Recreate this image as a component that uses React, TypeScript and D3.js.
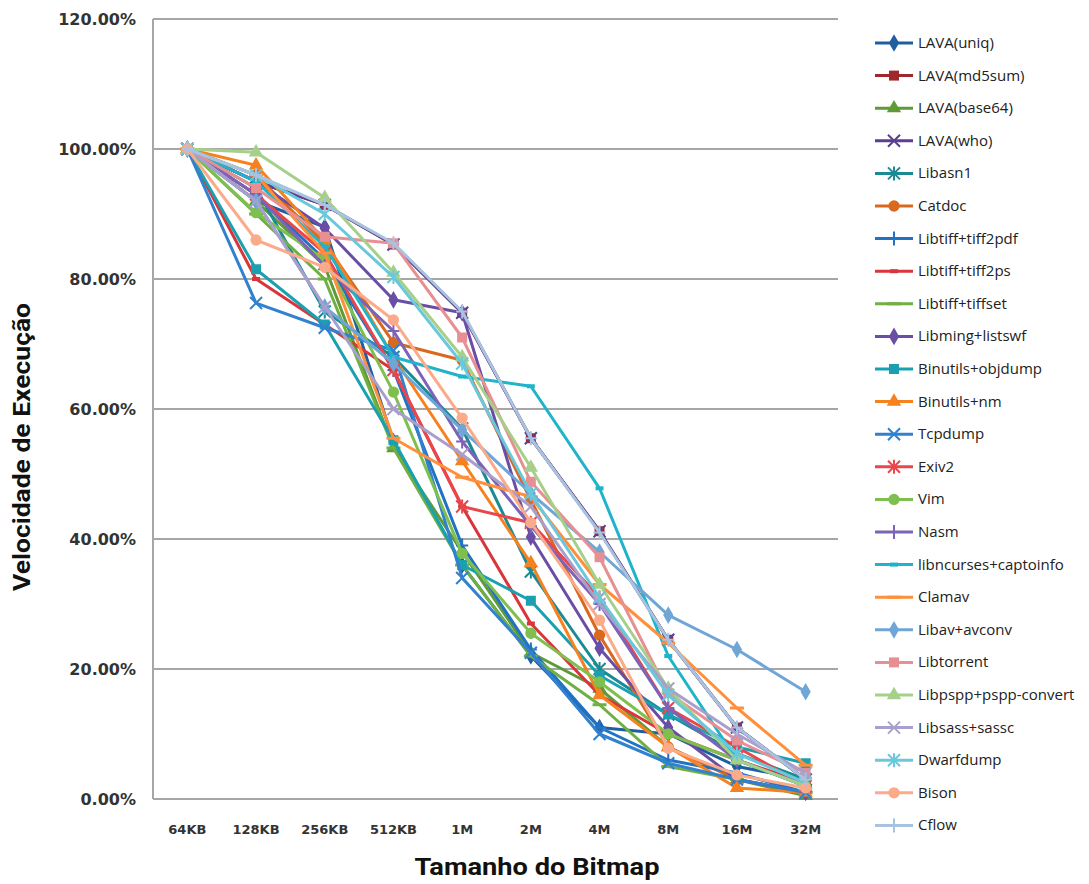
import React from 'react';
import * as d3 from 'd3';

// tamanhos do bitmap (eixo x)
const categories = ['64KB', '128KB', '256KB', '512KB', '1M', '2M', '4M', '8M', '16M', '32M'];
const yTicks = [0, 0.2, 0.4, 0.6, 0.8, 1.0, 1.2];

const seriesNames = [
  'LAVA(uniq)', 'LAVA(md5sum)', 'LAVA(base64)', 'LAVA(who)', 'Libasn1', 'Catdoc',
  'Libtiff+tiff2pdf', 'Libtiff+tiff2ps', 'Libtiff+tiffset', 'Libming+listswf',
  'Binutils+objdump', 'Binutils+nm', 'Tcpdump', 'Exiv2', 'Vim', 'Nasm',
  'libncurses+captoinfo', 'Clamav', 'Libav+avconv', 'Libtorrent',
  'Libpspp+pspp-convert', 'Libsass+sassc', 'Dwarfdump', 'Bison', 'Cflow',
];

const seriesColors = [
  '#1f5fa0', '#a0282c', '#5e9a37', '#5b3f90', '#1a8a94', '#d8691f',
  '#2272c3', '#d9353a', '#6fb043', '#6a4ea6', '#1aa0b0', '#f5821f',
  '#3181cf', '#e8474b', '#7fbf50', '#7d63b8', '#1fb4c9', '#ff8f3a',
  '#6fa6d6', '#e88f93', '#a6d08a', '#a99fcc', '#6ac8dc', '#fbaa8a', '#a7c3df',
];

// valores em % (velocidade relativa)
const lavaUniq = [100, 92, 88, 55, 36, 22, 11, 10, 5, 3];
const lavaMd5sum = [100, 95, 91.4, 85.3, 74.8, 55.5, 41.2, 24.5, 11, 3];
const lavaBase64 = [100, 92, 82, 54, 38, 22.5, 17, 8, 3, 0.5];
const lavaWho = [100, 95, 91.4, 85.3, 74.8, 55.5, 41.2, 24.5, 11, 3];
const libasn1 = [100, 94, 75, 68, 57, 35, 20, 13, 7, 3];
const catdoc = [100, 96, 85.5, 70.2, 67.5, 46, 25.2, 8, 3, 1];
const tiff2pdf = [100, 93, 83, 66, 39, 23, 11, 6, 4, 1];
const tiff2ps = [100, 80, 73, 66, 45, 27, 16, 10, 6, 2.5];
const tiffset = [100, 90, 80, 54, 36, 22, 14.5, 5, 3, 1];
const libming = [100, 95, 87.8, 76.8, 74.8, 40.3, 23.2, 11, 3, 1];
const objdump = [100, 81.5, 73, 55.2, 36, 30.5, 19, 13, 8, 5.5];
const binutilsNm = [100, 97.5, 86, 68, 52, 36.3, 16, 8, 1.7, 1];
const tcpdump = [100, 76.3, 72.5, 69, 34, 22.5, 10, 5.5, 3, 1];
const exiv2 = [100, 93, 84, 66, 45, 42.5, 31, 14, 8, 2];
const vim = [100, 90.2, 83, 62.6, 37.8, 25.5, 18, 10, 6, 2];
const nasm = [100, 93, 82, 72, 55, 42, 30, 14, 6, 2];
const libncurses = [100, 95, 85, 68, 65, 63.5, 47.8, 22, 6, 2];
const clamav = [100, 96, 84, 55.5, 49.5, 46.5, 33, 24, 14, 5.2];
const libav = [100, 92, 75.7, 67, 56.8, 47, 38, 28.3, 23, 16.5];
const libtorrent = [100, 94, 86.5, 85.5, 71, 48.8, 37.2, 16.3, 9, 4];
const libpspp = [100, 99.5, 92.5, 81, 68, 51, 33, 17, 6, 2];
const libsass = [100, 92, 75.7, 60, 53, 45, 30, 17, 10, 4];
const dwarfdump = [100, 96, 90, 80.3, 67, 47, 31, 16, 7, 2.5];
const bison = [100, 86, 81.8, 73.7, 58.6, 42.5, 27.5, 7.8, 3.7, 1.7];
const cflow = [100, 96, 91.4, 85.5, 75, 55.5, 41, 24.5, 11, 3];

const seriesValues = [
  lavaUniq, lavaMd5sum, lavaBase64, lavaWho, libasn1, catdoc, tiff2pdf, tiff2ps,
  tiffset, libming, objdump, binutilsNm, tcpdump, exiv2, vim, nasm, libncurses,
  clamav, libav, libtorrent, libpspp, libsass, dwarfdump, bison, cflow,
];

const markerTypes = ['diamond', 'square', 'triangle', 'x', 'star', 'circle', 'plus', 'dot', 'dash'];

const W = 1089;
const H = 884;
const plot = { left: 153, right: 840, top: 19, bottom: 799 };

const Marker = ({ type, color, x, y }: { type: string; color: string; x: number; y: number }) => {
  const t = `translate(${x},${y})`;
  if (type === 'diamond') return <path transform={t} d={d3.symbol(d3.symbolDiamond, 90)()!} fill={color} />;
  if (type === 'square') return <path transform={t} d={d3.symbol(d3.symbolSquare, 100)()!} fill={color} />;
  if (type === 'triangle') return <path transform={t} d={d3.symbol(d3.symbolTriangle, 90)()!} fill={color} />;
  if (type === 'circle') return <path transform={t} d={d3.symbol(d3.symbolCircle, 100)()!} fill={color} />;
  if (type === 'x')
    return <path transform={t} d="M-6,-6L6,6M-6,6L6,-6" stroke={color} strokeWidth={2} />;
  if (type === 'star')
    return <path transform={t} d="M-6,-6L6,6M-6,6L6,-6M0,-7L0,7" stroke={color} strokeWidth={2} />;
  if (type === 'plus')
    return <path transform={t} d="M0,-7L0,7M-6,0L6,0" stroke={color} strokeWidth={2} />;
  if (type === 'dot') return <path transform={t} d="M-4,0L4,0" stroke={color} strokeWidth={4} />;
  return <path transform={t} d="M-7,0L7,0" stroke={color} strokeWidth={3} />;
};

export default function App() {
  const x = d3.scalePoint<string>().domain(categories).range([plot.left, plot.right]).padding(0.5);
  const y = d3.scaleLinear().domain([0, 1.2]).range([plot.bottom, plot.top]);

  const line = d3
    .line<number>()
    .x((_, i) => x(categories[i])!)
    .y((d) => y(d / 100));

  const legendX = 875;
  const legendY0 = 43;
  const legendStep = 32.6;

  return (
    <svg width={W} height={H} style={{ display: 'block', position: 'absolute', left: 0, top: 0 }}>
      <rect width={W} height={H} fill="#fff" />
      {/* grade */}
      {yTicks.map((t) => (
        <line key={t} x1={plot.left} x2={838} y1={y(t)} y2={y(t)} stroke="#a6a6a6" strokeWidth={2} />
      ))}
      <line x1={plot.left} x2={plot.left} y1={plot.top} y2={plot.bottom} stroke="#a6a6a6" strokeWidth={2} />
      {yTicks.map((t) => (
        <text
          key={'l' + t}
          x={136}
          y={y(t) + 6}
          textAnchor="end"
          fontFamily="DejaVu Sans, Verdana, sans-serif"
          fontWeight="bold"
          fontSize={16}
          fill="#333"
        >
          {(t * 100).toFixed(2)}%
        </text>
      ))}
      {categories.map((c) => (
        <text
          key={c}
          x={x(c)}
          y={834}
          textAnchor="middle"
          fontFamily="DejaVu Sans, Verdana, sans-serif"
          fontWeight="bold"
          fontSize={13}
          fill="#333"
        >
          {c}
        </text>
      ))}
      <text
        x={537}
        y={875}
        textAnchor="middle"
        fontFamily="Liberation Sans Narrow, Roboto, sans-serif"
        fontWeight="bold"
        fontSize={23}
        textLength={245}
        lengthAdjust="spacingAndGlyphs"
        fill="#111"
      >
        Tamanho do Bitmap
      </text>
      <text
        transform="translate(30,447) rotate(-90)"
        textAnchor="middle"
        fontFamily="Liberation Sans Narrow, Roboto, sans-serif"
        fontWeight="bold"
        fontSize={24}
        textLength={288}
        lengthAdjust="spacingAndGlyphs"
        fill="#111"
      >
        Velocidade de Execução
      </text>

      {/* séries */}
      {seriesValues.map((vals, i) => (
        <g key={seriesNames[i]}>
          <path d={line(vals)!} fill="none" stroke={seriesColors[i]} strokeWidth={3} strokeLinejoin="round" />
          {vals.map((v, j) => (
            <Marker key={j} type={markerTypes[i % 9]} color={seriesColors[i]} x={x(categories[j])!} y={y(v / 100)} />
          ))}
        </g>
      ))}

      {/* legenda */}
      {seriesNames.map((name, i) => {
        const ly = legendY0 + i * legendStep;
        return (
          <g key={'lg' + name}>
            <line x1={legendX} x2={legendX + 38} y1={ly} y2={ly} stroke={seriesColors[i]} strokeWidth={3} />
            <Marker type={markerTypes[i % 9]} color={seriesColors[i]} x={legendX + 19} y={ly} />
            <text x={legendX + 43} y={ly + 5} fontFamily="Open Sans, sans-serif" fontSize={15} fill="#222">
              {name}
            </text>
          </g>
        );
      })}
    </svg>
  );
}
